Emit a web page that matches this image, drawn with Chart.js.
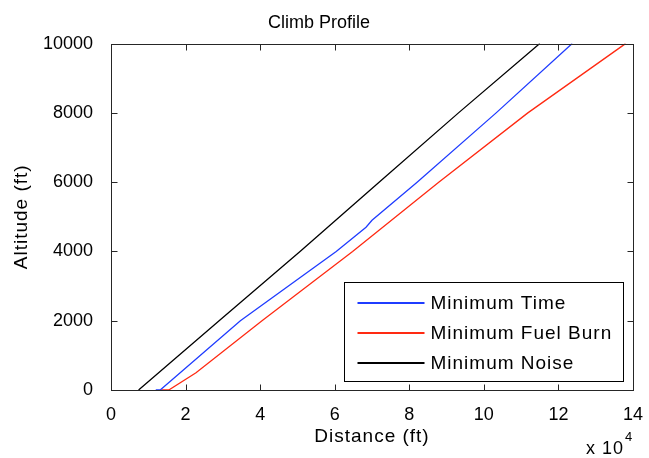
<!DOCTYPE html>
<html>
<head>
<meta charset="utf-8">
<title>Climb Profile</title>
<script src="https://cdn.jsdelivr.net/npm/chart.js@4.4.1/dist/chart.umd.min.js"></script>
<style>
    html, body { margin: 0; padding: 0; background: #fff; }
    #wrap { width: 649px; height: 458px; }
</style>
</head>
<body>
<div id="wrap"><canvas id="climbChart"></canvas></div>
<script>
// Distances in ft, altitudes in ft
const timeDist = [12000, 13200, 34700, 60400, 68400, 70000, 82100, 103300, 123700];
const timeAlt  = [0, 0, 2000, 4000, 4700, 4900, 6000, 8000, 10000];

const fuelDist = [13500, 15500, 22800, 40500, 64800, 87900, 111800, 138000];
const fuelAlt  = [0, 0, 500, 2000, 4000, 6000, 8000, 10000];

const noiseDist = [7400, 29000, 50700, 71900, 93200, 115000];
const noiseAlt  = [0, 2000, 4000, 6000, 8000, 10000];

const seriesNames  = ['Minimum Time', 'Minimum Fuel Burn', 'Minimum Noise'];
const seriesColors = ['#1f3cff', '#ff2a12', '#000000'];

const xTicks = [0, 20000, 40000, 60000, 80000, 100000, 120000, 140000];
const yTicks = [0, 2000, 4000, 6000, 8000, 10000];

const FONT = "'Liberation Sans', Arial, sans-serif";
const AXIS_COLOR = '#262626';

function toPoints(xs, ys) {
    return xs.map((x, i) => ({ x: x, y: ys[i] }));
}

// box, inward ticks, axis labels, exponent and legend in the old plotting style
const framePlugin = {
    id: 'frame',
    afterDraw(chart) {
        const ctx = chart.ctx;
        const area = chart.chartArea;
        const xs = chart.scales.x;
        const ys = chart.scales.y;
        const L = Math.round(area.left) + 0.5;
        const R = Math.round(area.right) + 0.5;
        const T = Math.round(area.top) + 0.5;
        const B = Math.round(area.bottom) + 0.5;

        ctx.save();
        ctx.strokeStyle = AXIS_COLOR;
        ctx.lineWidth = 1;
        ctx.strokeRect(L, T, R - L, B - T);

        const tick = 6;
        ctx.beginPath();
        xTicks.forEach(v => {
            const px = Math.round(xs.getPixelForValue(v)) + 0.5;
            ctx.moveTo(px, B); ctx.lineTo(px, B - tick);
            ctx.moveTo(px, T); ctx.lineTo(px, T + tick);
        });
        yTicks.forEach(v => {
            const py = Math.round(ys.getPixelForValue(v)) + 0.5;
            ctx.moveTo(L, py); ctx.lineTo(L + tick, py);
            ctx.moveTo(R, py); ctx.lineTo(R - tick, py);
        });
        ctx.stroke();

        ctx.fillStyle = '#000';
        ctx.letterSpacing = '1px';
        ctx.font = '19px ' + FONT;
        ctx.textAlign = 'center';
        ctx.textBaseline = 'middle';
        ctx.fillText('Distance (ft)', (area.left + area.right) / 2, 437);

        ctx.save();
        ctx.translate(22, (area.top + area.bottom) / 2);
        ctx.rotate(-Math.PI / 2);
        ctx.fillText('Altitude (ft)', 0, 0);
        ctx.restore();

        // x axis multiplier
        ctx.textAlign = 'left';
        ctx.textBaseline = 'alphabetic';
        ctx.font = '18px ' + FONT;
        const mx = area.right - 47;
        ctx.fillText('x 10', mx, 454);
        const mw = ctx.measureText('x 10').width;
        ctx.font = '13px ' + FONT;
        ctx.fillText('4', mx + mw + 1, 441);

        // legend
        ctx.font = '19px ' + FONT;
        const lineLen = 67;
        const padL = 13, gap = 6, padR = 11, rowH = 30, padT = 20;
        let textW = 0;
        seriesNames.forEach(name => { textW = Math.max(textW, ctx.measureText(name).width); });
        const boxW = Math.round(padL + lineLen + gap + textW + padR);
        const boxH = padT * 2 + rowH * (seriesNames.length - 1) - 1;
        const bx = Math.round(area.right - 10 - boxW) + 0.5;
        const by = Math.round(area.bottom - 9 - boxH) + 0.5;
        ctx.fillStyle = '#fff';
        ctx.fillRect(bx, by, boxW, boxH);
        ctx.strokeStyle = '#000';
        ctx.strokeRect(bx, by, boxW, boxH);
        ctx.textBaseline = 'middle';
        ctx.lineWidth = 2;
        seriesNames.forEach((name, i) => {
            const cy = Math.round(by + padT + i * rowH);
            ctx.beginPath();
            ctx.strokeStyle = seriesColors[i];
            ctx.moveTo(bx + padL, cy);
            ctx.lineTo(bx + padL + lineLen, cy);
            ctx.stroke();
            ctx.fillStyle = '#000';
            ctx.fillText(name, bx + padL + lineLen + gap, cy + 1);
        });
        ctx.restore();
    }
};

const ctx = document.getElementById('climbChart').getContext('2d');

new Chart(ctx, {
    type: 'line',
    data: {
        datasets: [{
            label: seriesNames[0],
            data: toPoints(timeDist, timeAlt),
            borderColor: seriesColors[0]
        }, {
            label: seriesNames[1],
            data: toPoints(fuelDist, fuelAlt),
            borderColor: seriesColors[1]
        }, {
            label: seriesNames[2],
            data: toPoints(noiseDist, noiseAlt),
            borderColor: seriesColors[2]
        }]
    },
    options: {
        responsive: true,
        maintainAspectRatio: false,
        animation: false,
        elements: {
            line: { borderWidth: 1.3, tension: 0 },
            point: { radius: 0 }
        },
        layout: {
            padding: { left: 0, right: 11, top: 0, bottom: 0 }
        },
        plugins: {
            legend: { display: false },
            tooltip: { enabled: false },
            title: {
                display: true,
                text: 'Climb Profile',
                color: '#000',
                font: { family: FONT, size: 18, weight: 'normal' },
                padding: { top: 12, bottom: 10 }
            }
        },
        scales: {
            x: {
                type: 'linear',
                min: 0,
                max: 140000,
                afterFit: function(scale) { scale.height = 68; },
                afterBuildTicks: function(scale) {
                    scale.ticks = xTicks.map(v => ({ value: v }));
                },
                grid: { display: false },
                border: { display: false },
                ticks: {
                    color: '#000',
                    font: { family: FONT, size: 18 },
                    padding: 6,
                    maxRotation: 0,
                    callback: function(value) {
                        return String(value / 10000);
                    }
                }
            },
            y: {
                type: 'linear',
                min: 0,
                max: 10000,
                afterFit: function(scale) { scale.width = 111; },
                afterBuildTicks: function(scale) {
                    scale.ticks = yTicks.map(v => ({ value: v }));
                },
                grid: { display: false },
                border: { display: false },
                ticks: {
                    color: '#000',
                    font: { family: FONT, size: 18 },
                    padding: 10,
                    callback: function(value) {
                        return String(value);
                    }
                }
            }
        }
    },
    plugins: [framePlugin]
});
</script>
</body>
</html>
